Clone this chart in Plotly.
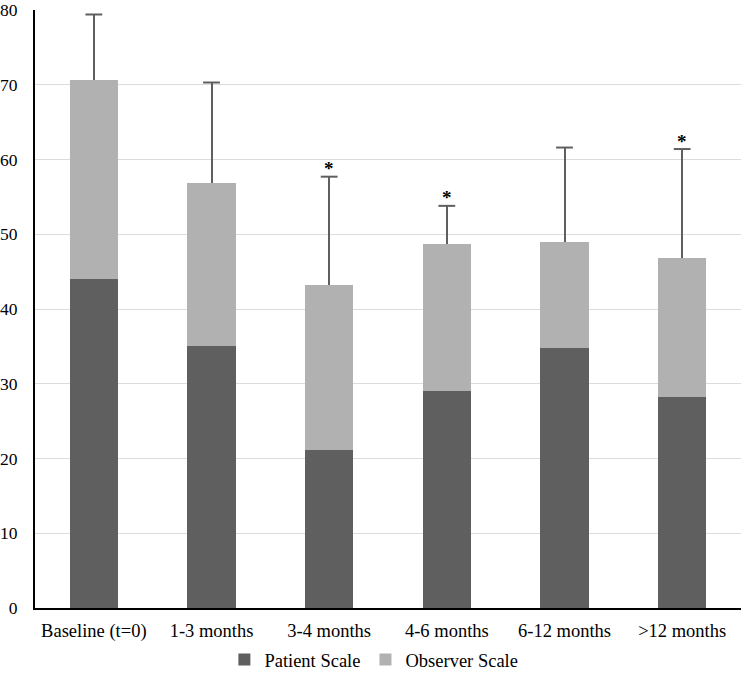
import plotly.graph_objects as go

categories = ["Baseline (t=0)", "1-3 months", "3-4 months", "4-6 months", "6-12 months", ">12 months"]
patient = [44.0, 35.1, 21.2, 29.0, 34.8, 28.2]
total = [70.7, 56.8, 43.2, 48.7, 49.0, 46.8]
error_top = [79.4, 70.3, 57.7, 53.8, 61.6, 61.4]
significant = [False, False, True, True, False, True]
y_ticks = [0, 10, 20, 30, 40, 50, 60, 70, 80]

observer = [round(t - p, 2) for t, p in zip(total, patient)]
err_plus = [round(e - t, 2) for e, t in zip(error_top, total)]

font_family = "'Liberation Serif', 'Times New Roman', serif"

fig = go.Figure()
fig.add_trace(go.Bar(
    x=categories, y=patient, name="Patient Scale",
    marker=dict(color="#5f5f5f", line=dict(width=0)),
    width=0.41,
))
fig.add_trace(go.Bar(
    x=categories, y=observer, name="Observer Scale",
    marker=dict(color="#b1b1b1", line=dict(width=0)),
    width=0.41,
    error_y=dict(type="data", symmetric=False, array=err_plus, arrayminus=[0]*len(err_plus),
                 color="#5f5f5f", thickness=2, width=0),
))
# error bar caps
fig.add_trace(go.Scatter(
    x=categories, y=error_top, mode="markers", showlegend=False, hoverinfo="skip",
    marker=dict(symbol="line-ew", size=12, line=dict(color="#5f5f5f", width=2)),
))

for c, e, s in zip(categories, error_top, significant):
    if s:
        fig.add_annotation(x=c, y=e, text="<b>*</b>", showarrow=False, yshift=8,
                           font=dict(family=font_family, size=19, color="black"))

fig.update_layout(
    barmode="stack",
    width=742, height=680,
    margin=dict(l=35, r=1, t=10, b=72),
    paper_bgcolor="white", plot_bgcolor="white",
    font=dict(family=font_family, size=18, color="black"),
    showlegend=True,
    legend=dict(orientation="h", x=0.48, xanchor="center", y=-0.087, yanchor="middle",
                font=dict(family=font_family, size=18.5, color="black"),
                itemwidth=30, traceorder="normal"),
    bargap=0.59,
)
fig.update_yaxes(range=[0, 80], tickvals=y_ticks, showgrid=True, gridcolor="#dcdcdc", gridwidth=1,
                 showline=True, linecolor="black", linewidth=2, zeroline=False,
                 ticks="", tickfont=dict(size=17.5), automargin=False,
                 ticklabeloverflow="allow", ticklabelstandoff=12)
fig.update_xaxes(showline=True, linecolor="black", linewidth=2, ticks="",
                 tickfont=dict(size=18.5), automargin=False, ticklabelstandoff=5)

fig.write_html("out.html", config={"displayModeBar": False},
               post_script="document.body.style.margin='0';")
